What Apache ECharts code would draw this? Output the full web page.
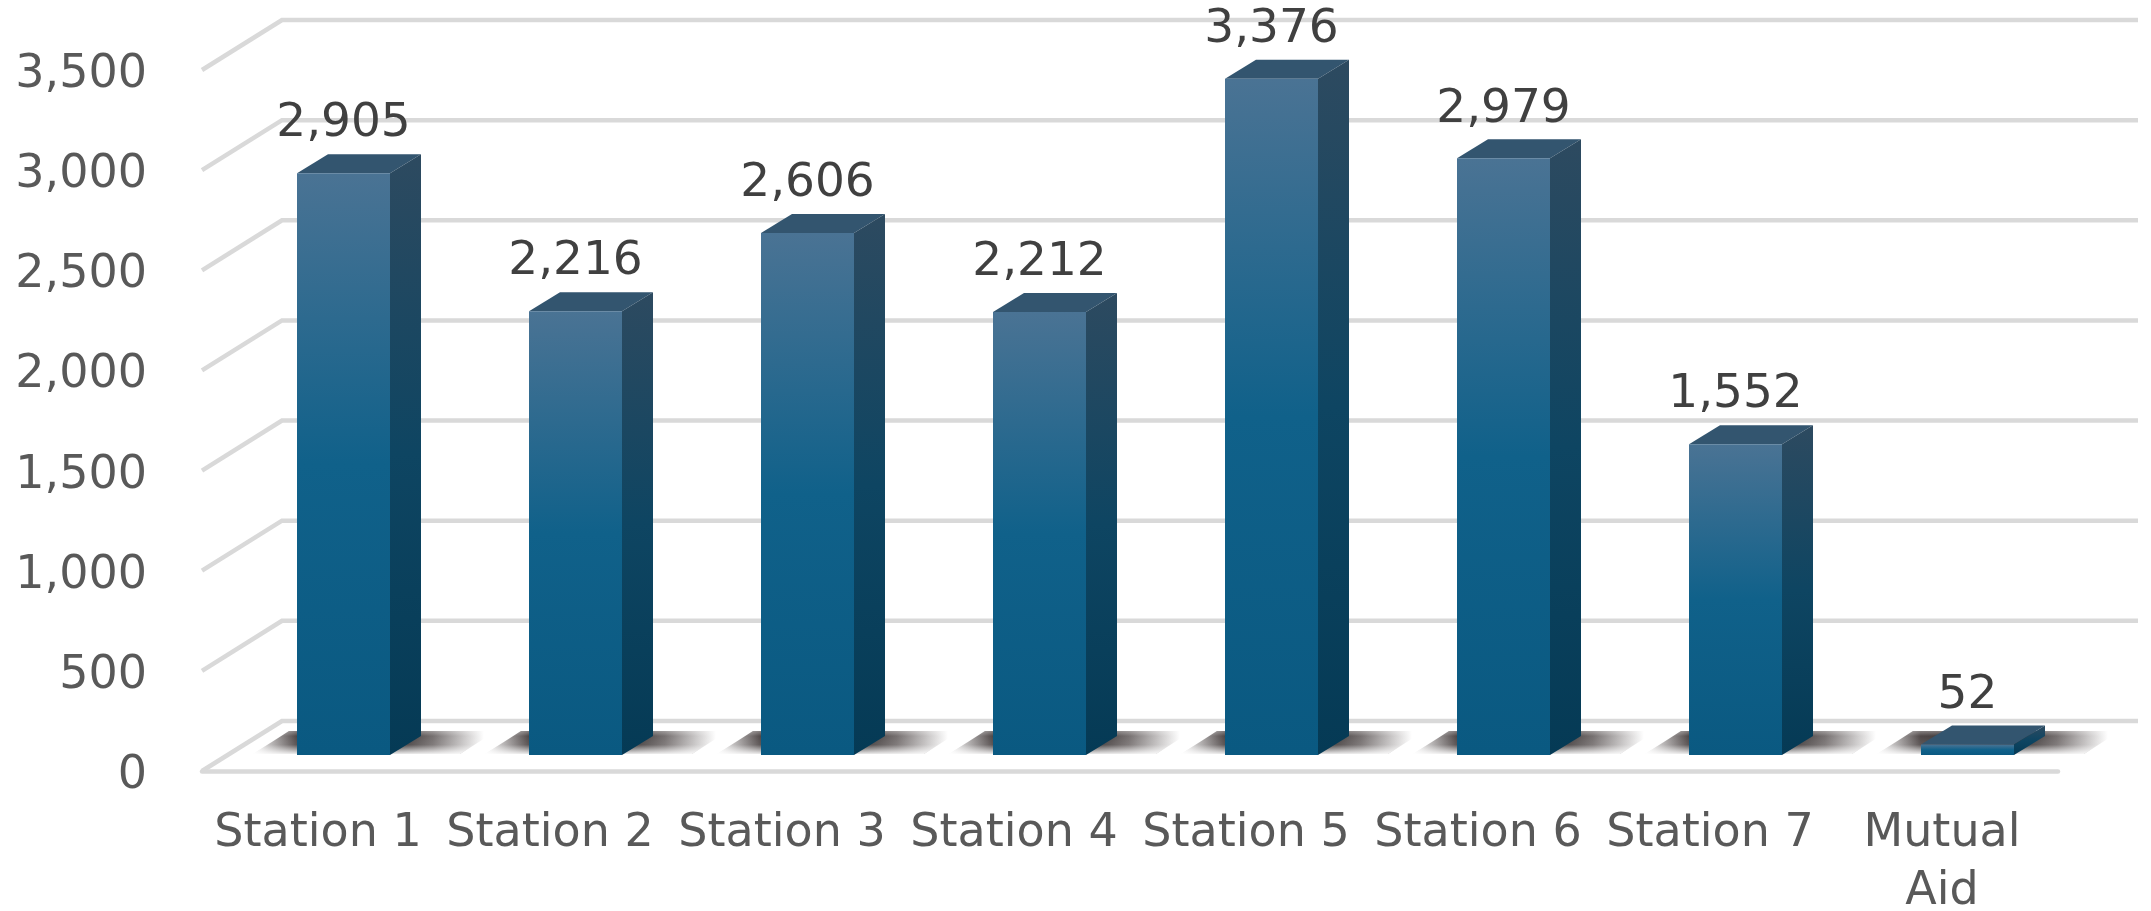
<!DOCTYPE html>
<html>
<head>
<meta charset="utf-8">
<style>html,body{margin:0;padding:0;background:#fff}#c{width:2151px;height:911px}</style>
<script src="https://cdn.jsdelivr.net/npm/echarts@6/dist/echarts.min.js"></script>
</head>
<body>
<div id="c"></div>
<script>
const categories = ['Station 1','Station 2','Station 3','Station 4','Station 5','Station 6','Station 7','Mutual\nAid'];
const values = [2905,2216,2606,2212,3376,2979,1552,52];
const yTicks = [0,500,1000,1500,2000,2500,3000,3500];

const FONT = '"DejaVu Sans"';
const WALL_DX = 80, WALL_DY = -50;      // depth of the floor / wall
const BAR_OFF_X = 25.5, BAR_OFF_Y = -16; // bars stand part-way into the floor
const BAR_W = 93, BAR_DX = 31, BAR_DY = -19;
const GRID_C = '#d9d9d9';
const grad = (s) => new echarts.graphic.LinearGradient(0,0,0,1,s);

const chart = echarts.init(document.getElementById('c'), null, {renderer:'canvas'});
chart.setOption({
  animation:false,
  backgroundColor:'#fff',
  grid:{left:202,right:93,top:70,height:701,containLabel:false,outerBoundsMode:'none'},
  xAxis:{type:'category',data:categories,
    axisLine:{show:true,onZero:false,lineStyle:{color:GRID_C,width:4.5}},
    axisTick:{show:false},splitLine:{show:false},
    axisLabel:{interval:0,margin:34,color:'#595959',fontFamily:FONT,fontSize:46,lineHeight:58,verticalAlign:'top',hideOverlap:false}},
  yAxis:{type:'value',min:0,max:3500,interval:500,
    axisLine:{show:false},axisTick:{show:false},splitLine:{show:false},
    axisLabel:{margin:55,color:'#595959',fontFamily:FONT,fontSize:46,verticalAlign:'top',lineHeight:10,
      formatter:v=>v.toLocaleString('en-US')}},
  series:[
    {type:'custom',name:'walls',silent:true,z:1,clip:false,
     data:yTicks.map(v=>[0,v]),encode:{x:0,y:1},
     renderItem(params,api){
       const y = api.coord([0,api.value(1)])[1];
       const rect = params.coordSys;
       const x0 = rect.x, x1 = rect.x+rect.width;
       return {type:'polyline',silent:true,
         shape:{points:[[x0,y],[x0+WALL_DX,y+WALL_DY],[x1+WALL_DX,y+WALL_DY]]},
         style:{stroke:GRID_C,lineWidth:4.5,fill:null}};
     }},
    {type:'custom',name:'Calls',silent:true,z:2,clip:false,
     data:values.map((v,i)=>[i,v]),encode:{x:0,y:1},
     renderItem(params,api){
       const val = api.value(1);
       const p = api.coord([api.value(0),val]);
       const b = api.coord([api.value(0),0]);
       const L = p[0]+BAR_OFF_X-BAR_W/2, R = L+BAR_W;
       const T = p[1]+BAR_OFF_Y, B = b[1]+BAR_OFF_Y;
       const cx = (L+R)/2;
       const shadowTop = B-24;
       const shadowPts = [[L-44,B-1],[L-8,shadowTop],[R+106,shadowTop],[R+70,B-1]];
       return {type:'group',children:[
         {type:'polygon',silent:true,shape:{points:shadowPts},
          style:{fill:new echarts.graphic.LinearGradient(0,0,1,0,[
            {offset:0,color:'rgba(60,52,52,0)'},
            {offset:0.18,color:'rgba(60,52,52,0.9)'},
            {offset:0.56,color:'rgba(35,30,30,1)'},
            {offset:0.74,color:'rgba(60,52,52,0.7)'},
            {offset:0.95,color:'rgba(60,52,52,0)'}])}},
         {type:'polygon',silent:true,shape:{points:shadowPts},
          style:{fill:grad([
            {offset:0,color:'rgba(255,255,255,0.3)'},
            {offset:0.22,color:'rgba(255,255,255,0)'},
            {offset:0.6,color:'rgba(255,255,255,0.08)'},
            {offset:1,color:'rgba(255,255,255,0.9)'}])}},
         {type:'polygon',silent:true,
          shape:{points:[[L,T],[L+BAR_DX,T+BAR_DY],[R+BAR_DX,T+BAR_DY],[R,T]]},
          style:{fill:'#33556f'}},
         {type:'polygon',silent:true,
          shape:{points:[[R,T],[R+BAR_DX,T+BAR_DY],[R+BAR_DX,B+BAR_DY],[R,B]]},
          style:{fill:grad([{offset:0,color:'#2d4a60'},{offset:0.5,color:'#0e4562'},{offset:1,color:'#053a55'}])}},
         {type:'rect',silent:true,
          shape:{x:L,y:T,width:BAR_W,height:B-T},
          style:{fill:grad([{offset:0,color:'#4a7394'},{offset:0.5,color:'#10618a'},{offset:1,color:'#0a5981'}])}},
         {type:'text',silent:true,
          style:{x:cx,y:T+BAR_DY-30,text:val.toLocaleString('en-US'),
            fill:'#404040',font:'47px '+FONT,align:'center',verticalAlign:'middle'}}
       ]};
     }}
  ]
});
</script>
</body>
</html>
